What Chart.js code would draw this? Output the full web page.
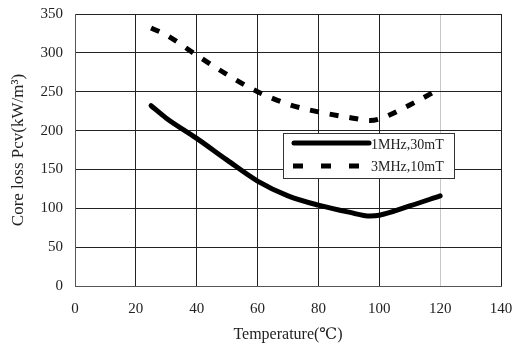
<!DOCTYPE html>
<html><head><meta charset="utf-8">
<title>Core loss vs Temperature</title>
<script src="https://cdn.jsdelivr.net/npm/chart.js"></script>
<style>
  html, body { margin: 0; padding: 0; background: #fff; }
  #wrap { width: 516px; height: 345px; }
</style></head>
<body>
<div id="wrap"><canvas id="grafico"></canvas></div>
<script>
// --- DADOS ---
const temps1 = [25, 30, 40, 50, 60, 70, 80, 90, 97, 100, 110, 120];
const loss1MHz = [232, 216, 190, 162, 135, 116, 104, 95, 90, 91, 103, 116];
const temps3 = [25, 30, 40, 50, 60, 70, 80, 90, 97, 100, 110, 120];
const loss3MHz = [332, 323, 297, 272, 250, 234, 224, 217, 213, 215, 233, 254];
const label1 = '1MHz,30mT';
const label3 = '3MHz,10mT';
const xTicks = [0, 20, 40, 60, 80, 100, 120, 140];
const yTicks = [0, 50, 100, 150, 200, 250, 300, 350];

const serif = "'Liberation Serif', 'DejaVu Serif', serif";

function pts(xs, ys) { return xs.map((x, i) => ({ x: x, y: ys[i] })); }

// legenda desenhada dentro da area do grafico
const legendaInterna = {
    id: 'legendaInterna',
    afterDraw(chart) {
        const ctx = chart.ctx;
        const a = chart.chartArea;
        const x0 = a.left + 208, y0 = a.top + 119, w = 171, h = 45;
        ctx.save();
        ctx.fillStyle = '#fff';
        ctx.fillRect(x0, y0, w, h);
        ctx.strokeStyle = '#333';
        ctx.lineWidth = 1;
        ctx.strokeRect(x0 + 0.5, y0 + 0.5, w, h);
        ctx.lineWidth = 5;
        ctx.strokeStyle = '#000';
        ctx.lineCap = 'round';
        ctx.beginPath();
        ctx.moveTo(x0 + 11, y0 + 10); ctx.lineTo(x0 + 86, y0 + 10);
        ctx.stroke();
        ctx.lineCap = 'butt';
        ctx.setLineDash([10, 18]);
        ctx.beginPath();
        ctx.moveTo(x0 + 10, y0 + 33); ctx.lineTo(x0 + 80, y0 + 33);
        ctx.stroke();
        ctx.setLineDash([]);
        ctx.fillStyle = '#222';
        ctx.font = '14px ' + serif;
        ctx.textBaseline = 'middle';
        ctx.fillText(label1, x0 + 88, y0 + 12);
        ctx.fillText(label3, x0 + 88, y0 + 34);
        ctx.restore();
    }
};

const ctx = document.getElementById('grafico').getContext('2d');
new Chart(ctx, {
    type: 'line',
    data: {
        datasets: [
            { label: label1, data: pts(temps1, loss1MHz), borderColor: '#000', borderWidth: 5,
              pointRadius: 0, cubicInterpolationMode: 'monotone', borderCapStyle: 'round', fill: false },
            { label: label3, data: pts(temps3, loss3MHz), borderColor: '#000', borderWidth: 5,
              borderDash: [9, 11], pointRadius: 0, cubicInterpolationMode: 'monotone', fill: false }
        ]
    },
    options: {
        responsive: true,
        maintainAspectRatio: false,
        animation: false,
        layout: { padding: 0 },
        plugins: { legend: { display: false }, tooltip: { enabled: false } },
        scales: {
            x: {
                type: 'linear', min: 0, max: 140,
                afterBuildTicks: s => { s.ticks = xTicks.map(v => ({ value: v })); },
                afterFit: s => { s.height = 59; s.paddingLeft = 0; s.paddingRight = 15; },
                grid: { color: c => c.tick && c.tick.value === 120 ? '#c8c8c8' : '#222', lineWidth: 1, drawTicks: false },
                border: { color: '#555', width: 1 },
                ticks: { color: '#222', font: { family: serif, size: 15 }, padding: 14, maxRotation: 0 },
                title: { display: true, text: 'Temperature(℃)', color: '#222', font: { family: serif, size: 16 }, padding: { top: 0, bottom: 1 } }
            },
            y: {
                type: 'linear', min: 0, max: 350,
                afterBuildTicks: s => { s.ticks = yTicks.map(v => ({ value: v })); },
                afterFit: s => { s.width = 75; s.paddingTop = 14; s.paddingBottom = 0; },
                grid: { color: '#222', lineWidth: 1, drawTicks: false },
                border: { color: '#555', width: 1 },
                ticks: { color: '#222', font: { family: serif, size: 15 }, padding: 12 },
                title: { display: true, text: 'Core loss Pcv(kW/m³)', color: '#222', font: { family: serif, size: 17 }, padding: { top: 8, bottom: 0 } }
            }
        }
    },
    plugins: [legendaInterna]
});
</script>
</body></html>
